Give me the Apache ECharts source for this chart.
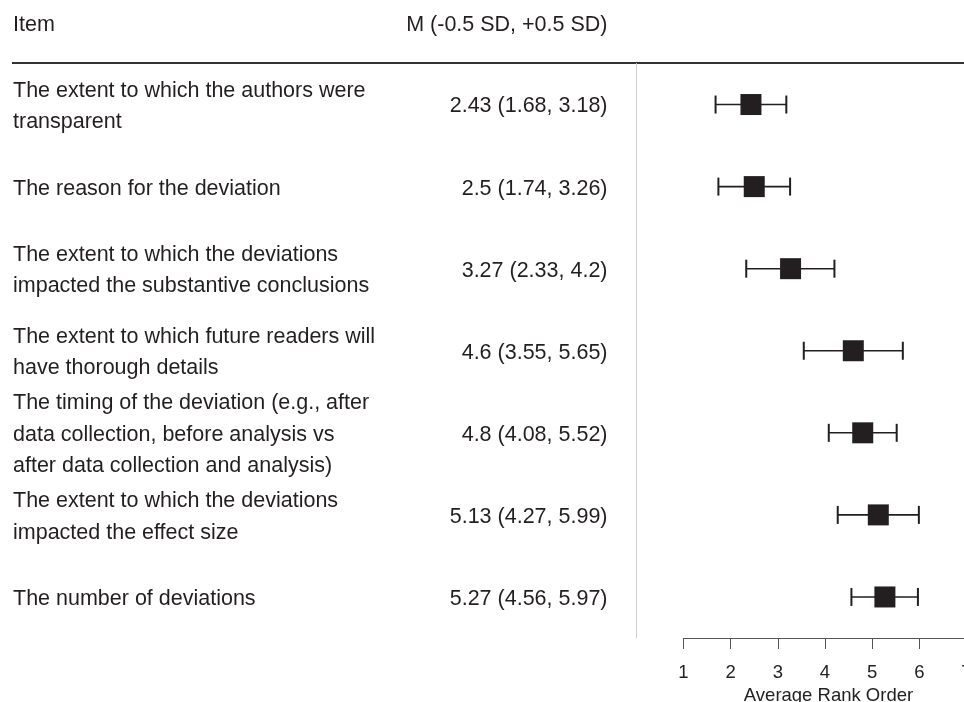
<!DOCTYPE html>
<html>
<head>
<meta charset="utf-8">
<script src="https://cdn.jsdelivr.net/npm/echarts@6/dist/echarts.min.js"></script>
<style>
  html, body { margin: 0; padding: 0; background: #fff; }
  #chart { width: 964px; height: 702px; }
</style>
</head>
<body>
<div id="chart"></div>
<script>
// Survey items, ranked by average position (1 = most important)
const items = [
  'The extent to which the authors were\ntransparent',
  'The reason for the deviation',
  'The extent to which the deviations\nimpacted the substantive conclusions',
  'The extent to which future readers will\nhave thorough details',
  'The timing of the deviation (e.g., after\ndata collection, before analysis vs\nafter data collection and analysis)',
  'The extent to which the deviations\nimpacted the effect size',
  'The number of deviations'
];
const means = [2.43, 2.5, 3.27, 4.6, 4.8, 5.13, 5.27];
const lowSD = [1.68, 1.74, 2.33, 3.55, 4.08, 4.27, 4.56];
const highSD = [3.18, 3.26, 4.2, 5.65, 5.52, 5.99, 5.97];
const rankTicks = [1, 2, 3, 4, 5, 6, 7];

const headerItem = 'Item';
const headerStat = 'M (-0.5 SD, +0.5 SD)';
const axisTitle = 'Average Rank Order';

const FONT = '"Liberation Sans", Arial, Helvetica, sans-serif';
const INK = '#231f20';

const statLabels = means.map((m, i) => `${m} (${lowSD[i]}, ${highSD[i]})`);

// Each table line sits a touch below the row centre line
const rowText = {
  t: { fontSize: 21.5, lineHeight: 31.5, padding: [4, 0, 0, 0], color: INK, fontFamily: FONT }
};
const asRows = s => s.split('\n').map(line => `{t|${line}}`).join('\n');

const chart = echarts.init(document.getElementById('chart'), null, { renderer: 'canvas' });

const option = {
  animation: false,
  backgroundColor: '#ffffff',
  textStyle: { fontFamily: FONT },
  grid: {
    left: 683.5, right: -2.5, top: 63.5, bottom: 64,
    containLabel: false,
    outerBoundsMode: 'none'
  },
  xAxis: {
    type: 'value',
    min: rankTicks[0],
    max: rankTicks[rankTicks.length - 1],
    interval: 1,
    splitLine: { show: false },
    axisLine: { show: true, lineStyle: { color: '#555', width: 1 } },
    axisTick: { show: true, length: 11, lineStyle: { color: '#555', width: 1 } },
    axisLabel: {
      color: '#222', fontSize: 18.5, fontFamily: FONT, margin: 25,
      showMinLabel: true, showMaxLabel: true
    },
    name: axisTitle,
    nameLocation: 'middle',
    nameGap: 47,
    nameTextStyle: { color: '#222', fontSize: 18.5, fontFamily: FONT, padding: [0, 0, 0, 7] }
  },
  yAxis: [
    {
      type: 'category',
      inverse: true,
      data: items,
      axisLine: { show: false },
      axisTick: { show: false },
      splitLine: { show: false },
      axisLabel: {
        interval: 0,
        align: 'left',
        margin: 670.5,
        color: INK,
        fontSize: 21.5,
        fontFamily: FONT,
        formatter: v => asRows(v),
        rich: rowText
      }
    },
    {
      type: 'category',
      inverse: true,
      position: 'left',
      offset: 47,
      data: items,
      axisLine: { show: true, lineStyle: { color: '#cfcfcf', width: 1 } },
      axisTick: { show: false },
      splitLine: { show: false },
      axisLabel: {
        interval: 0,
        align: 'right',
        margin: 29,
        color: INK,
        fontSize: 21.5,
        fontFamily: FONT,
        formatter: (v, i) => asRows(statLabels[i]),
        rich: rowText
      }
    }
  ],
  graphic: [
    {
      type: 'text',
      left: 13,
      top: 14.5,
      style: { text: headerItem, fill: INK, font: `21.5px ${FONT}` }
    },
    {
      type: 'text',
      right: 964 - 607.5,
      top: 14.5,
      style: { text: headerStat, fill: INK, font: `21.5px ${FONT}`, textAlign: 'left' }
    },
    {
      type: 'line',
      shape: { x1: 12, y1: 63, x2: 964, y2: 63 },
      style: { stroke: '#333', lineWidth: 2 }
    }
  ],
  series: [
    {
      // ±0.5 SD whiskers with end caps
      type: 'custom',
      yAxisIndex: 0,
      data: items.map((_, i) => [i, lowSD[i], highSD[i]]),
      encode: { x: [1, 2], y: 0 },
      renderItem: (params, api) => {
        const row = api.value(0);
        const a = api.coord([api.value(1), row]);
        const b = api.coord([api.value(2), row]);
        const cap = 9;
        const style = { stroke: INK, lineWidth: 1.6 };
        return {
          type: 'group',
          children: [
            { type: 'line', shape: { x1: a[0], y1: a[1], x2: b[0], y2: b[1] }, style },
            { type: 'line', shape: { x1: a[0], y1: a[1] - cap, x2: a[0], y2: a[1] + cap }, style: { stroke: INK, lineWidth: 2 } },
            { type: 'line', shape: { x1: b[0], y1: b[1] - cap, x2: b[0], y2: b[1] + cap }, style: { stroke: INK, lineWidth: 2 } }
          ]
        };
      },
      z: 2
    },
    {
      // mean markers
      type: 'scatter',
      yAxisIndex: 0,
      data: means.map((m, i) => [m, i]),
      symbol: 'rect',
      symbolSize: 21,
      itemStyle: { color: INK, opacity: 1 },
      z: 3
    }
  ]
};

chart.setOption(option);
</script>
</body>
</html>
